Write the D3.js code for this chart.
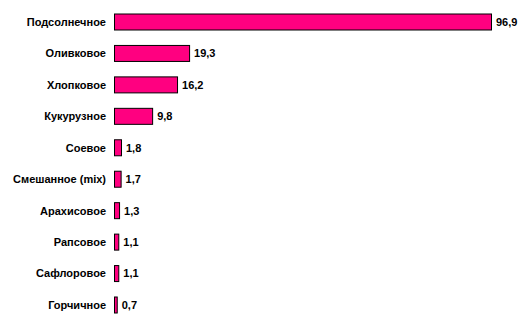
<!DOCTYPE html>
<html><head><meta charset="utf-8">
<script src="https://cdn.jsdelivr.net/npm/d3@7/dist/d3.min.js"></script>
<style>
body{margin:0;background:#fff;}
text{font-family:"Liberation Sans",Arial,sans-serif;font-weight:bold;font-size:11px;fill:#000;}
</style></head>
<body><svg id="c" width="524" height="319"></svg>
<script>
const categories = ["Подсолнечное","Оливковое","Хлопковое","Кукурузное","Соевое","Смешанное (mix)","Арахисовое","Рапсовое","Сафлоровое","Горчичное"];
const values = [96.9,19.3,16.2,9.8,1.8,1.7,1.3,1.1,1.1,0.7];
const valueLabels = ["96,9","19,3","16,2","9,8","1,8","1,7","1,3","1,1","1,1","0,7"];

const svg = d3.select("#c");
const x = d3.scaleLinear().domain([0,96.9]).range([114.5,491.5]);
const y = d3.scalePoint().domain(categories).range([22,305]);
const bh = 16;

const g = svg.append("g");
g.selectAll("rect").data(categories).join("rect")
  .attr("x", x(0))
  .attr("y", d => y(d) - bh/2)
  .attr("width", (d,i) => x(values[i]) - x(0))
  .attr("height", bh)
  .attr("fill", "#FF0080")
  .attr("stroke", "#000")
  .attr("stroke-width", 1);

g.selectAll("text.cat").data(categories).join("text")
  .attr("class","cat")
  .attr("x", 106)
  .attr("y", d => y(d))
  .attr("dy","0.35em")
  .attr("text-anchor","end")
  .text(d => d);

g.selectAll("text.val").data(categories).join("text")
  .attr("class","val")
  .attr("x", (d,i) => x(values[i]) + 4.5)
  .attr("y", d => y(d))
  .attr("dy","0.35em")
  .text((d,i) => valueLabels[i]);
</script></body></html>
